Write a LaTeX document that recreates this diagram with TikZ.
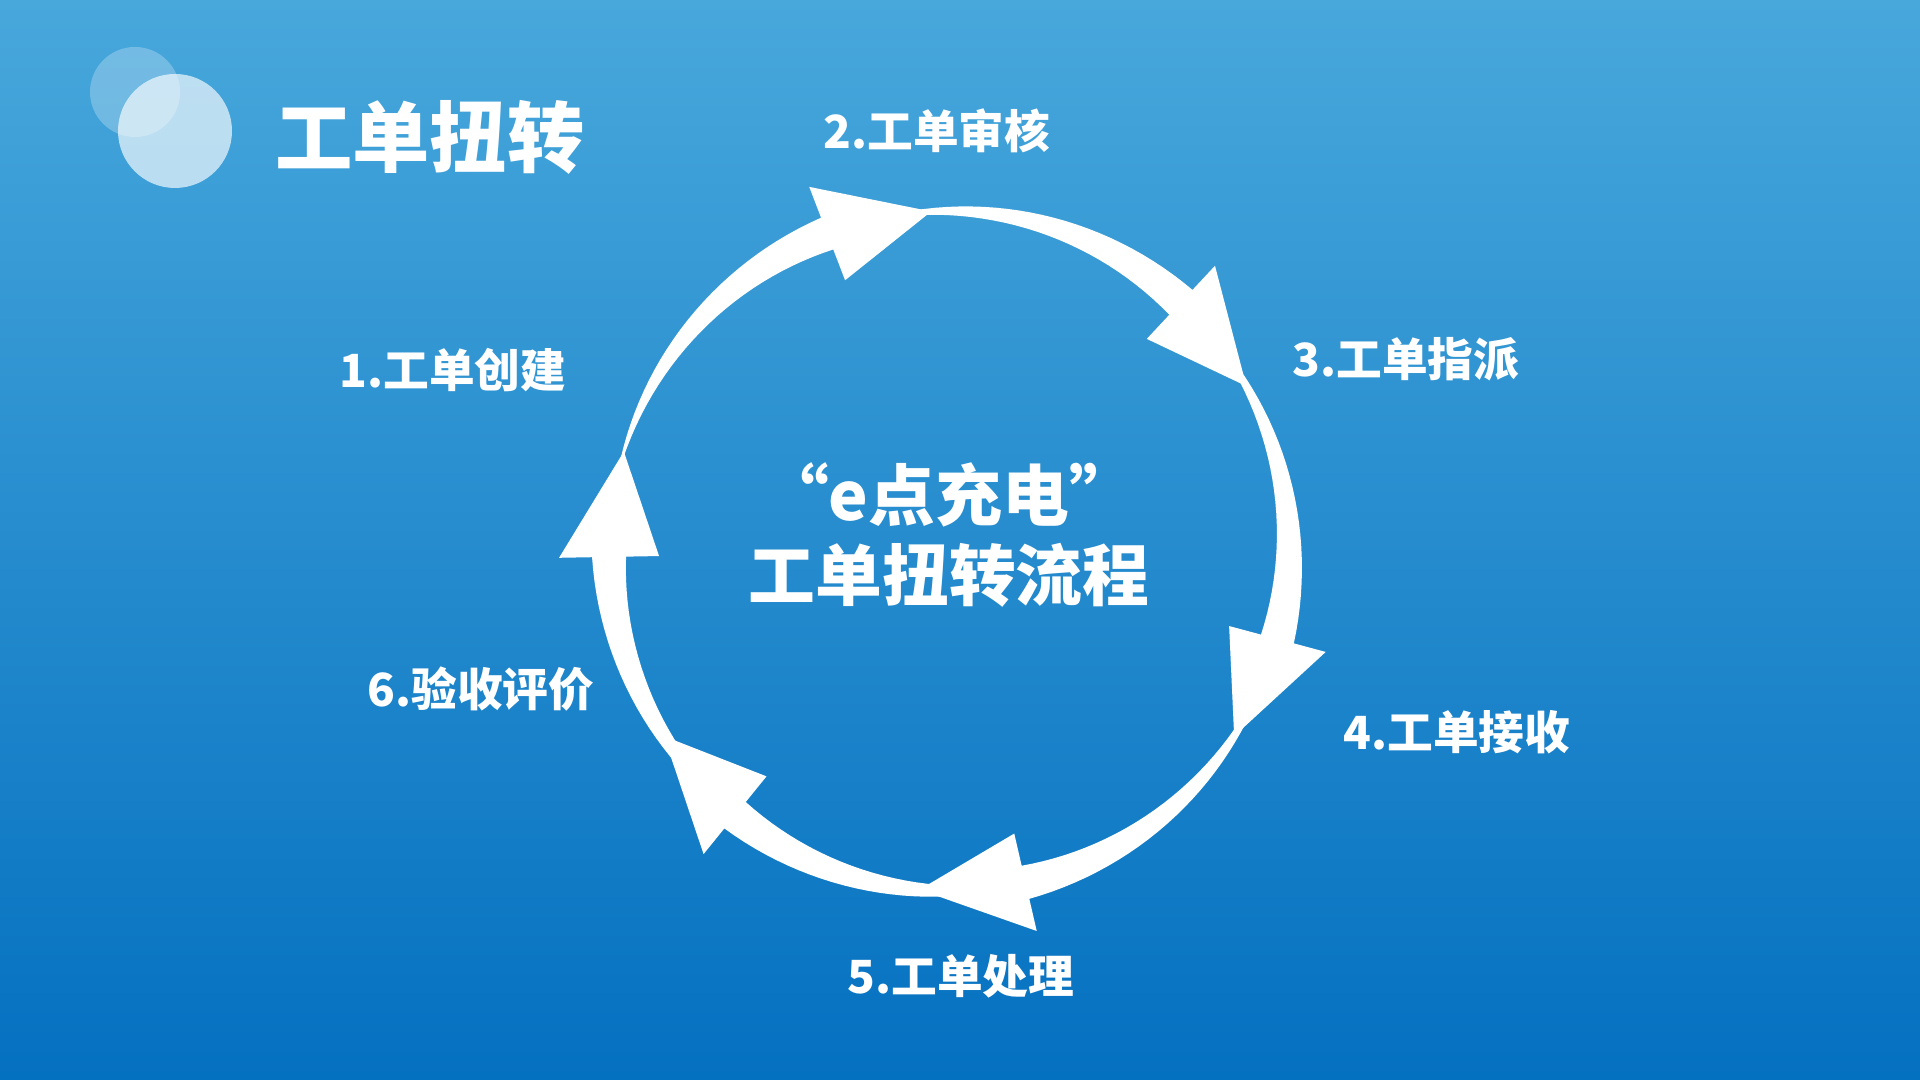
\documentclass[tikz,border=0pt]{standalone}
\usepackage{fontspec}
\setmainfont{Noto Sans CJK SC}
\usetikzlibrary{positioning}

\begin{document}
\begin{tikzpicture}[thick]
\tikzstyle{step label} = [text=white, font=\bfseries\fontsize{13pt}{15pt}\selectfont]
\tikzstyle{bubble} = [fill=white, draw=white, line width=1pt]

% background
\shade[top color={rgb,255:red,72;green,168;blue,220}, bottom color={rgb,255:red,4;green,112;blue,192}] (0,0) rectangle (19.2,10.8);
\useasboundingbox (0,0) rectangle (19.2,10.8);

% title
\fill[white, opacity=0.25] (1.35,9.88) circle (0.45);
\fill[white, opacity=0.65] (1.75,9.49) circle (0.57);
\node[text=white, font=\bfseries\fontsize{22pt}{26pt}\selectfont, anchor=west] (title) at (2.62,9.43) {工单扭转};

% center
\coordinate (c) at (9.49,5.29);
\node[text=white, font=\bfseries\fontsize{19pt}{23pt}\selectfont, align=center] (mid) at (9.49,5.45) {“e点充电”\\工单扭转流程};

% arrows
\begin{scope}[shift={(c)}]
\def\R{3.4}
\foreach \t in {163,93,29,-33,-95,-147} {
  \pgfmathsetmacro{\s}{\t+75}
  \pgfmathsetmacro{\b}{\t+18}
  \fill[white] plot[domain=\s:\b, samples=30] ({\x}:{\R+0.17*(\s-\x)/(\s-\b)})
    -- (\b:\R+0.5) -- (\t:\R) -- (\b:\R-0.5)
    -- plot[domain=\b:\s, samples=30] ({\x}:{\R-0.17*(\s-\x)/(\s-\b)}) -- cycle;
}
\end{scope}

% steps
\node[step label] (s1) at (4.53,7.10) {1.工单创建};
\node[step label] (s2) at (9.37,9.49) {2.工单审核};
\node[step label] (s3) at (14.06,7.21) {3.工单指派};
\node[step label] (s4) at (14.57,3.48) {4.工单接收};
\node[step label] (s5) at (9.61,1.04) {5.工单处理};
\node[step label] (s6) at (4.81,3.91) {6.验收评价};

\end{tikzpicture}
\end{document}
